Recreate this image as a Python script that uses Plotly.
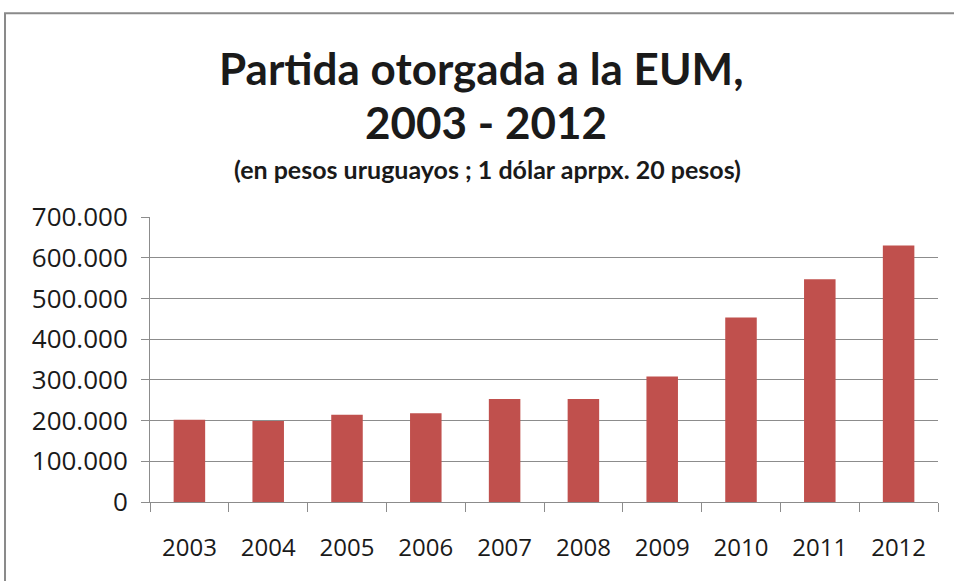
import plotly.graph_objects as go

years = ["2003", "2004", "2005", "2006", "2007", "2008", "2009", "2010", "2011", "2012"]
values = [202000, 199000, 214000, 218000, 253000, 253000, 308000, 453000, 547000, 630000]
y_ticks = [0, 100000, 200000, 300000, 400000, 500000, 600000, 700000]

title_line1 = "Partida otorgada a la EUM,"
title_line2 = "2003 - 2012"
subtitle = "(en pesos uruguayos ; 1 dólar aprpx. 20 pesos)"

TFONT = "Lato, sans-serif"
AFONT = "'Open Sans', sans-serif"
GRID = "#8c8c8c"

fig = go.Figure(go.Bar(x=years, y=values, marker=dict(color="#C0504D", line=dict(width=0)), width=0.4))

fig.update_layout(
    width=954, height=581,
    margin=dict(l=150, r=16, t=217, b=79),
    paper_bgcolor="white", plot_bgcolor="white",
    separators=",.",
    showlegend=False,
    font=dict(family=AFONT, color="#1a1a1a"),
)
fig.update_yaxes(
    range=[0, 700000], tickvals=y_ticks, tickformat=",d",
    showgrid=True, gridcolor=GRID, gridwidth=1,
    showline=True, linecolor=GRID, linewidth=1,
    ticks="outside", ticklen=8, tickcolor=GRID,
    tickfont=dict(size=26, family=AFONT, color="#1a1a1a"),
    ticklabelstandoff=8,
    zeroline=False,
)
fig.update_xaxes(
    type="category", tickson="boundaries",
    showline=True, linecolor=GRID, linewidth=1,
    ticks="outside", ticklen=9, tickcolor=GRID,
    tickfont=dict(size=24, family=AFONT, color="#1a1a1a"),
    ticklabelstandoff=24,
)

fig.add_annotation(text="<b>" + title_line1 + "</b>", xref="paper", yref="paper",
                   x=0.42, y=1.522, showarrow=False, yanchor="middle",
                   font=dict(size=44, family=TFONT, color="#1a1a1a"))
fig.add_annotation(text="<b>" + title_line2 + "</b>", xref="paper", yref="paper",
                   x=0.426, y=1.333, showarrow=False, yanchor="middle",
                   font=dict(size=44, family=TFONT, color="#1a1a1a"))
fig.add_annotation(text="<b>" + subtitle + "</b>", xref="paper", yref="paper",
                   x=0.428, y=1.168, showarrow=False, yanchor="middle",
                   font=dict(size=25, family=TFONT, color="#1a1a1a"))

# outer chart frame (plot area spans x 150..938, y 217..502 in pixels)
fig.add_shape(type="rect", xref="paper", yref="paper",
              x0=-0.184, x1=1.05, y0=-0.35, y1=1.715,
              line=dict(color="#8a8a8a", width=2), fillcolor="rgba(0,0,0,0)", layer="below")

fig.write_html("out.html", config={"displayModeBar": False},
               post_script="document.body.style.margin='0';document.body.style.overflow='hidden';")
